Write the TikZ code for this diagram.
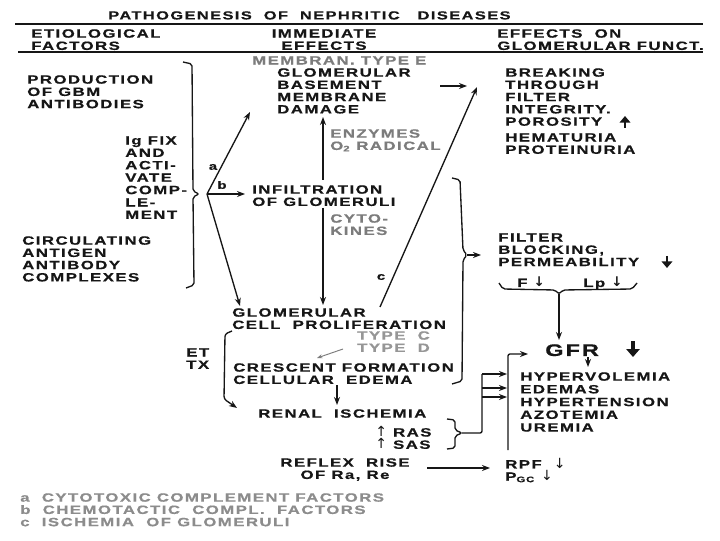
\documentclass[tikz,border=0pt]{standalone}
\usepackage{fontspec}
\newfontfamily\diafont{Liberation Sans}[FakeStretch=1.4,LetterSpace=12,BoldFeatures={FakeBold=0.6}]
\newfontfamily\symfont{DejaVu Sans}
\usetikzlibrary{arrows.meta,calc}
\definecolor{ink}{HTML}{161616}
\definecolor{fade}{HTML}{7C7C7C}
\definecolor{note}{HTML}{8C8C8C}
\newcommand\thinup{{\symfont\mdseries\fontsize{10.5pt}{9pt}\selectfont ↑}}
\newcommand\thindown{{\symfont\mdseries\fontsize{10.5pt}{9pt}\selectfont ↓}}
\newcommand\bolddown{{\symfont\bfseries\fontsize{10pt}{9pt}\selectfont ↓}}
\tikzset{
  lbl/.style={inner sep=0pt, anchor=north west, align=left, text=ink,
    font=\diafont\bfseries\fontsize{9pt}{9.2pt}\selectfont},
  greylbl/.style={lbl, text=fade},
  letter/.style={inner sep=0pt, text=ink, font=\diafont\bfseries\fontsize{8pt}{9pt}\selectfont},
  conn/.style={draw=ink, line width=1pt, -{Stealth[length=6pt,width=4.5pt]}},
  brk/.style={draw=ink, line width=1pt, rounded corners=1.5pt},
  fat/.style={draw=ink, line width=2.2pt, -{Triangle[length=5pt,width=8pt]}}
}
\begin{document}
\begin{tikzpicture}[x=0.75pt,y=-0.75pt]
\useasboundingbox (0,0) rectangle (720,541);
\fill[white] (0,0) rectangle (720,541);
% headings
\node[lbl, font=\diafont\bfseries\fontsize{8.8pt}{9pt}\selectfont] (title) at (108,11) {PATHOGENESIS\ \ OF\ \ NEPHRITIC\ \ \ DISEASES};
\node[lbl] (etio) at (31,29) {ETIOLOGICAL\\FACTORS};
\node[lbl, anchor=north, align=center] (immed) at (324,29) {IMMEDIATE\\EFFECTS};
\node[lbl] (effon) at (497,29) {EFFECTS\ \ ON\\GLOMERULAR FUNCT.};
\coordinate (ruleA) at (15,24);
\coordinate (ruleB) at (703,24);
\coordinate (ruleC) at (18,52);
\coordinate (ruleD) at (703,52);
\draw [ink, line width=1pt] (ruleA) -- (ruleB);
\draw [ink, line width=1pt] (ruleC) -- (ruleD);
% etiological factors
\node[lbl] (gbmab) at (27,75) {PRODUCTION\\OF GBM\\ANTIBODIES};
\node[lbl, font=\diafont\bfseries\fontsize{9pt}{9.3pt}\selectfont] (igfix) at (125,136) {Ig FIX\\AND\\ACTI-\\VATE\\COMP-\\LE-\\MENT};
\node[lbl] (circ) at (22,236) {CIRCULATING\\ANTIGEN\\ANTIBODY\\COMPLEXES};
\draw [brk] (183,62) -- (192,64) -- (193,191) -- (199,194) -- (193,197) -- (194,285) -- (186,288);
% immediate effects
\node[greylbl] (membran) at (252,56) {MEMBRAN. TYPE E};
\node[lbl] (gbm) at (277,68) {GLOMERULAR\\BASEMENT\\MEMBRANE\\DAMAGE};
\node[greylbl] (enzym) at (330,129) {ENZYMES\\O\textsubscript{2} RADICAL};
\node[lbl] (infil) at (252,185) {INFILTRATION\\OF GLOMERULI};
\node[greylbl] (cyto) at (330,214) {CYTO-\\KINES};
\node[lbl] (prolif) at (232,308) {GLOMERULAR\\CELL\ \ PROLIFERATION};
\node[greylbl, text=fade!80] (types) at (357,331) {TYPE\ \ C\\TYPE\ \ D};
\node[lbl] (ettx) at (186,348) {ET\\TX};
\node[lbl] (cresc) at (233,363) {CRESCENT FORMATION\\CELLULAR\ \ EDEMA};
\node[lbl] (renal) at (258,409) {RENAL\ \ ISCHEMIA};
\node[lbl] (ras) at (375,426) {\thinup\ RAS\\\thinup\ SAS};
\node[lbl, anchor=north, align=center] (reflex) at (345,458) {REFLEX\ \ RISE\\OF Ra, Re};
\node[letter] (la) at (213,167) {a};
\node[letter] (lb) at (222,185) {b};
\node[letter] (lc) at (381,277) {c};
% effects on glomerular function
\node[lbl] (breaking) at (505,68) {BREAKING\\THROUGH\\FILTER\\INTEGRITY.\\POROSITY};
\node[lbl] (hemat) at (505,133) {HEMATURIA\\PROTEINURIA};
\node[lbl] (filter) at (498,233) {FILTER\\BLOCKING,\\PERMEABILITY};
\node[lbl] (fdown) at (517,277) {F \bolddown};
\node[lbl] (lpdown) at (583,277) {Lp \bolddown};
\node[lbl, font=\diafont\bfseries\fontsize{12.6pt}{13pt}\selectfont] (gfr) at (545,344) {GFR};
\node[lbl, font=\diafont\bfseries\fontsize{9pt}{9.55pt}\selectfont] (hyper) at (520,372) {HYPERVOLEMIA\\EDEMAS\\HYPERTENSION\\AZOTEMIA\\UREMIA};
\node[lbl] (rpf) at (505,458) {RPF\ \ \thindown\\P\textsubscript{GC} \thindown};
% footnotes
\node[lbl, text=note] (notes) at (20,493) {a\ \ CYTOTOXIC COMPLEMENT FACTORS\\b\ \ CHEMOTACTIC\ \ COMPL.\ \ FACTORS\\c\ \ ISCHEMIA\ \ OF GLOMERULI};
% fork from the etiological brace
\coordinate (fork) at (207,194);
\coordinate (aEnd) at (250,112);
\coordinate (bEnd) at (245,194);
\coordinate (pEnd) at (240,306);
\draw [conn] (fork) -- (aEnd);
\draw [conn] (fork) -- (bEnd);
\draw [conn] (fork) -- (pEnd);
% middle column
\coordinate (upA) at (323,180);
\coordinate (upB) at (323,117);
\coordinate (dnA) at (323,208);
\coordinate (dnB) at (323,305);
\draw [conn] (upA) -- (upB);
\draw [conn] (dnA) -- (dnB);
\coordinate (cA) at (380,307);
\coordinate (cB) at (477,87);
\draw [conn] (cA) -- (cB);
\coordinate (memA) at (440,86);
\coordinate (memB) at (467,86);
\draw [conn] (memA) -- (memB);
\coordinate (tyA) at (343,349);
\coordinate (tyB) at (317,358);
\draw [draw=fade, line width=0.7pt, -{Stealth[length=4pt,width=3pt]}] (tyA) -- (tyB);
\coordinate (etA) at (232,331);
\coordinate (etB) at (237,408);
\draw [conn, rounded corners=2pt] (etA) -- (225,334) -- (224,399) -- (etB);
\coordinate (crA) at (337,385);
\coordinate (crB) at (337,405);
\draw [conn] (crA) -- (crB);
\draw [brk] (452,178) -- (460,180) -- (463,250) -- (467,255) -- (463,260) -- (462,381) -- (452,384);
\coordinate (midTip) at (467,255);
\coordinate (midEnd) at (481,255);
\draw [conn] (midTip) -- (midEnd);
% right column
\draw [brk] (499,283) -- (503,289) -- (555,290) -- (559,294) -- (563,290) -- (632,289) -- (637,283);
\coordinate (flTip) at (559,294);
\coordinate (flEnd) at (559,340);
\draw [conn] (flTip) -- (flEnd);
\coordinate (gfrA) at (588,357);
\coordinate (gfrB) at (588,367);
\draw [conn] (gfrA) -- (gfrB);
\draw [brk] (447,419) -- (455,420) -- (455,430) -- (462,433) -- (455,436) -- (455,448) -- (447,449);
\coordinate (rasTip) at (462,433);
\coordinate (rasJ) at (482,374);
\draw [brk] (rasTip) -- (482,433) -- (rasJ);
\foreach \y in {374,388,397}
  \draw [conn] (482,\y) -- (507,\y);
\coordinate (rfA) at (427,468);
\coordinate (rfB) at (490,468);
\draw [conn] (rfA) -- (rfB);
\coordinate (feedA) at (508,450);
\coordinate (feedB) at (528,354);
\draw [conn, rounded corners=1.5pt] (feedA) -- (508,354) -- (feedB);
% bold arrows
\draw [fat] (625,128) -- (625,116);
\draw [fat] (667,256) -- (667,268);
\draw [fat, line width=2.6pt, -{Triangle[length=6pt,width=10pt]}] (633,341) -- (633,357);
\end{tikzpicture}
\end{document}
